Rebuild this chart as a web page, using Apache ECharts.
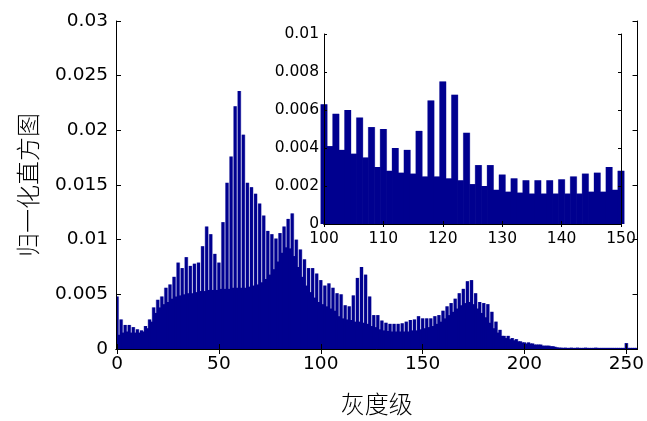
<!DOCTYPE html>
<html><head><meta charset="utf-8">
<script src="https://cdn.jsdelivr.net/npm/echarts@6/dist/echarts.min.js"></script>
<style>html,body{margin:0;padding:0;background:#fff}#c{width:647px;height:421px}</style>
</head><body><div id="c"></div>
<script>
// gray levels 0..255 (category labels)
const grayLevels = Array.from({length: 256}, (_, i) => String(i));
// normalized histogram values
const histValues = [
  0.0048,0.0013,0.0027,0.0015,0.0022,0.0016,0.0022,0.0015,0.0020,0.0015,
  0.0018,0.0015,0.0017,0.0016,0.0021,0.0019,0.0027,0.0025,0.0038,0.0033,
  0.0045,0.0038,0.0048,0.0041,0.0056,0.0043,0.0059,0.0046,0.0066,0.0048,
  0.0079,0.0049,0.0074,0.0050,0.0084,0.0051,0.0076,0.0051,0.0078,0.0052,
  0.0079,0.0053,0.0094,0.0053,0.0112,0.0054,0.0105,0.0054,0.0087,0.0054,
  0.0079,0.0055,0.0116,0.0055,0.0152,0.0055,0.0176,0.0056,0.0222,0.0056,
  0.0236,0.0056,0.0196,0.0056,0.0152,0.0057,0.0148,0.0058,0.0142,0.0059,
  0.0133,0.0061,0.0122,0.0064,0.0108,0.0068,0.0105,0.0073,0.0101,0.0080,
  0.0106,0.0088,0.0112,0.0093,0.0119,0.0092,0.0124,0.0085,0.0100,0.0075,
  0.0091,0.0066,0.0082,0.0058,0.0074,0.0052,0.0074,0.0047,0.0069,0.0043,
  0.0063,0.0041,0.0058,0.0039,0.0060,0.0037,0.0056,0.0035,0.0051,0.0030,
  0.0050,0.0028,0.0040,0.0027,0.0039,0.00265,0.0049,0.0025,0.0065,0.0025,
  0.0075,0.0024,0.0068,0.0023,0.0048,0.0021,0.0031,0.0020,0.0031,0.0018,
  0.0026,0.0017,0.0024,0.00165,0.0023,0.0016,0.0023,0.0016,0.0023,0.0016,
  0.00235,0.0016,0.0025,0.0016,0.00265,0.0017,0.0027,0.0017,0.0030,0.0018,
  0.0028,0.0019,0.0028,0.0020,0.0028,0.0021,0.0030,0.0023,0.0031,0.0025,
  0.0035,0.0028,0.0039,0.0031,0.0042,0.0034,0.0046,0.0037,0.0051,0.0040,
  0.0055,0.0042,0.0062,0.0043,0.0063,0.0041,0.0051,0.0037,0.0043,0.0033,
  0.0042,0.0029,0.0041,0.0024,0.0034,0.0019,0.0025,0.0015,0.00175,0.0012,
  0.0012,0.0010,0.0012,0.0009,0.0010,0.0008,0.0009,0.0007,0.0007,0.0006,
  0.0006,0.0005,0.0006,0.0005,0.0005,0.0004,0.0004,0.0004,0.0004,0.0003,
  0.0003,0.0003,0.0003,0.00025,0.00025,0.0002,0.00015,0.00012,0.00012,0.0001,
  0.00012,0.0001,0.0001,0.00012,0.0001,0.0001,0.00012,0.0001,0.0001,0.0001,
  0.00012,0.0001,0.0001,0.0001,0.0001,0.00012,0.0001,0.0001,0.0001,0.0001,
  0.0001,0.0001,0.0001,0.0001,0.0001,0.0001,0.0001,0.0001,0.0001,0.0001,
  0.00054,0.0001,0.0001,0.0001,0.0001,0.0001
];
const insetStart = 100;
const insetEnd = 150;
const mainXLabelStep = 50;

const insetData = histValues.slice(insetStart, insetEnd + 1).map((v, i) => [insetStart + i, v]);

const barColor = '#00008F';
const edgeColor = '#a4a4d8';
const latin = "'DejaVu Sans', sans-serif";
const cjk = "'Noto Sans CJK SC', sans-serif";
const showEvery = (idx) => idx % mainXLabelStep === 0;

const chart = echarts.init(document.getElementById('c'), null, {renderer: 'canvas'});
const axisLine = {show: true, lineStyle: {color: '#000', width: 1}};
const tickMain = {show: true, inside: true, length: 5, lineStyle: {color: '#000'}};
const tickInset = {show: true, inside: true, length: 3, lineStyle: {color: '#000'}};
chart.setOption({
  animation: false,
  backgroundColor: '#fff',
  grid: [
    {left: 116, right: 6, top: 21, bottom: 68, show: false},
    {left: 324, top: 34, width: 297, height: 190, show: true, backgroundColor: '#fff', borderWidth: 0, z: 5}
  ],
  xAxis: [
    {type: 'category', gridIndex: 0, data: grayLevels, boundaryGap: true, position: 'bottom', z: 4,
     axisLine, axisTick: Object.assign({}, tickMain, {alignWithLabel: true, interval: showEvery}),
     axisLabel: {interval: showEvery, color: '#000', fontSize: 18.5, fontFamily: latin, margin: 6},
     name: '灰度级', nameLocation: 'middle', nameGap: 43,
     nameTextStyle: {fontFamily: cjk, fontSize: 24, color: '#000', fontWeight: 300}},
    {type: 'category', gridIndex: 0, data: grayLevels, boundaryGap: true, position: 'top', z: 4,
     axisLine, axisTick: Object.assign({}, tickMain, {alignWithLabel: true, interval: showEvery}),
     axisLabel: {show: false}},
    {type: 'value', gridIndex: 1, min: insetStart, max: insetEnd, interval: 10, position: 'bottom', z: 7,
     axisLine, axisTick: tickInset,
     axisLabel: {color: '#000', fontSize: 15.5, fontFamily: latin, margin: 7}, splitLine: {show: false}},
    {type: 'value', gridIndex: 1, min: insetStart, max: insetEnd, interval: 10, position: 'top', z: 7,
     axisLine, axisTick: tickInset, axisLabel: {show: false}, splitLine: {show: false}},
    // hidden twins used only to lay out the light bar edges
    {type: 'category', gridIndex: 0, data: grayLevels, boundaryGap: true, show: false},
    {type: 'value', gridIndex: 1, min: insetStart, max: insetEnd, show: false}
  ],
  yAxis: [
    {type: 'value', gridIndex: 0, min: 0, max: 0.03, interval: 0.005, position: 'left', z: 4,
     axisLine, axisTick: tickMain,
     axisLabel: {color: '#000', fontSize: 18.5, fontFamily: latin, margin: 8}, splitLine: {show: false},
     name: '归一化直方图', nameLocation: 'middle', nameGap: 76, nameRotate: 90,
     nameTextStyle: {fontFamily: cjk, fontSize: 24, color: '#000', fontWeight: 300}},
    {type: 'value', gridIndex: 0, min: 0, max: 0.03, interval: 0.005, position: 'right', z: 4,
     axisLine, axisTick: tickMain, axisLabel: {show: false}, splitLine: {show: false}},
    {type: 'value', gridIndex: 1, min: 0, max: 0.01, interval: 0.002, position: 'left', z: 7,
     axisLine, axisTick: tickInset,
     axisLabel: {color: '#000', fontSize: 15.5, fontFamily: latin, margin: 5}, splitLine: {show: false}},
    {type: 'value', gridIndex: 1, min: 0, max: 0.01, interval: 0.002, position: 'right', z: 7,
     axisLine, axisTick: tickInset, axisLabel: {show: false}, splitLine: {show: false}}
  ],
  series: [
    {type: 'bar', xAxisIndex: 4, yAxisIndex: 0, data: histValues, barWidth: '200%',
     itemStyle: {color: edgeColor}, z: 1},
    {type: 'bar', xAxisIndex: 0, yAxisIndex: 0, data: histValues, barWidth: '145%',
     itemStyle: {color: barColor}, z: 2},
    {type: 'bar', xAxisIndex: 5, yAxisIndex: 2, data: insetData, barWidth: 7.4, clip: true,
     itemStyle: {color: edgeColor}, z: 5},
    {type: 'bar', xAxisIndex: 2, yAxisIndex: 2, data: insetData, barWidth: 6.5, clip: true,
     itemStyle: {color: barColor}, z: 6}
  ]
});
</script>
</body></html>
